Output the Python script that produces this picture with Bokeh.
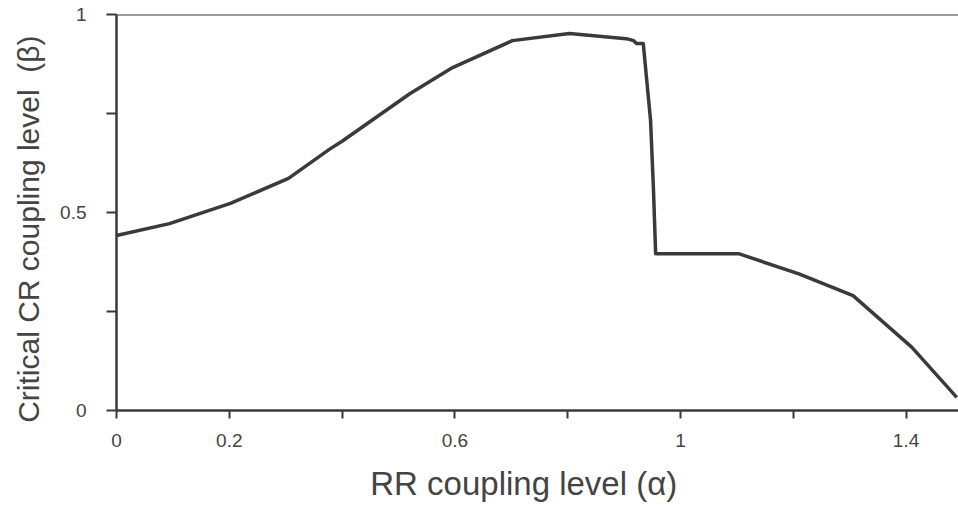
from bokeh.plotting import figure
from bokeh.models import Range1d, FixedTicker, Span
from bokeh.embed import file_html
from bokeh.resources import INLINE

# data
alpha = [0.0, 0.094, 0.202, 0.305, 0.378, 0.40, 0.52, 0.596, 0.702, 0.803, 0.904,
         0.917, 0.922, 0.934, 0.947, 0.952, 0.956, 1.103, 1.21, 1.306, 1.41, 1.49]
beta = [0.442, 0.472, 0.523, 0.586, 0.66, 0.68, 0.80, 0.866, 0.934, 0.952, 0.939,
        0.934, 0.927, 0.927, 0.732, 0.563, 0.396, 0.396, 0.345, 0.29, 0.16, 0.033]

x_ticks = [0, 0.2, 0.4, 0.6, 0.8, 1.0, 1.2, 1.4]
x_labels = {0: "0", 0.2: "0.2", 0.4: "", 0.6: "0.6", 0.8: "", 1.0: "1", 1.2: "", 1.4: "1.4"}
y_ticks = [0, 0.25, 0.5, 0.75, 1.0]
y_labels = {0: "0", 0.25: "", 0.5: "0.5", 0.75: "", 1.0: "1"}

INK = "#3a3a3a"
TXT = "#444444"
NB = "\u00a0"

p = figure(width=958, height=505, output_backend="svg", toolbar_location=None,
           x_range=Range1d(0, 1.493), y_range=Range1d(0, 1.0),
           min_border_left=116, min_border_right=0, min_border_top=14, min_border_bottom=95)
p.outline_line_color = None
p.grid.grid_line_color = None
p.background_fill_color = "white"
p.border_fill_color = "white"

p.line(alpha, beta, line_color=INK, line_width=3.5, line_join="round")

top = Span(location=1.0, dimension="width", line_color=INK, line_width=2)
p.add_layout(top)

for ax in (p.xaxis[0], p.yaxis[0]):
    ax.axis_line_color = INK
    ax.axis_line_width = 2.5
    ax.major_tick_line_color = INK
    ax.major_tick_line_width = 2
    ax.major_tick_in = 0
    ax.minor_tick_line_color = None
    ax.major_label_text_color = TXT
    ax.major_label_text_font = "Liberation Sans"
    ax.major_label_text_font_size = "19px"
    ax.axis_label_text_color = TXT
    ax.axis_label_text_font = "Liberation Sans"
    ax.axis_label_text_font_style = "normal"

p.xaxis.ticker = FixedTicker(ticks=x_ticks)
p.xaxis.major_label_overrides = x_labels
p.xaxis.major_tick_out = 8
p.xaxis.major_label_standoff = 15
p.xaxis.axis_label = "RR coupling level (\u03b1)" + NB * 3
p.xaxis.axis_label_text_font_size = "33px"
p.xaxis.axis_label_standoff = 15

p.yaxis.ticker = FixedTicker(ticks=y_ticks)
p.yaxis.major_label_overrides = y_labels
p.yaxis.major_tick_out = 10
p.yaxis.major_label_standoff = 20
p.yaxis.axis_label = "Critical CR coupling level" + NB * 2 + "(\u03b2)" + NB * 4
p.yaxis.axis_label_text_font_size = "30px"
p.yaxis.axis_label_standoff = 12

open("out.html", "w").write(file_html(p, INLINE))
